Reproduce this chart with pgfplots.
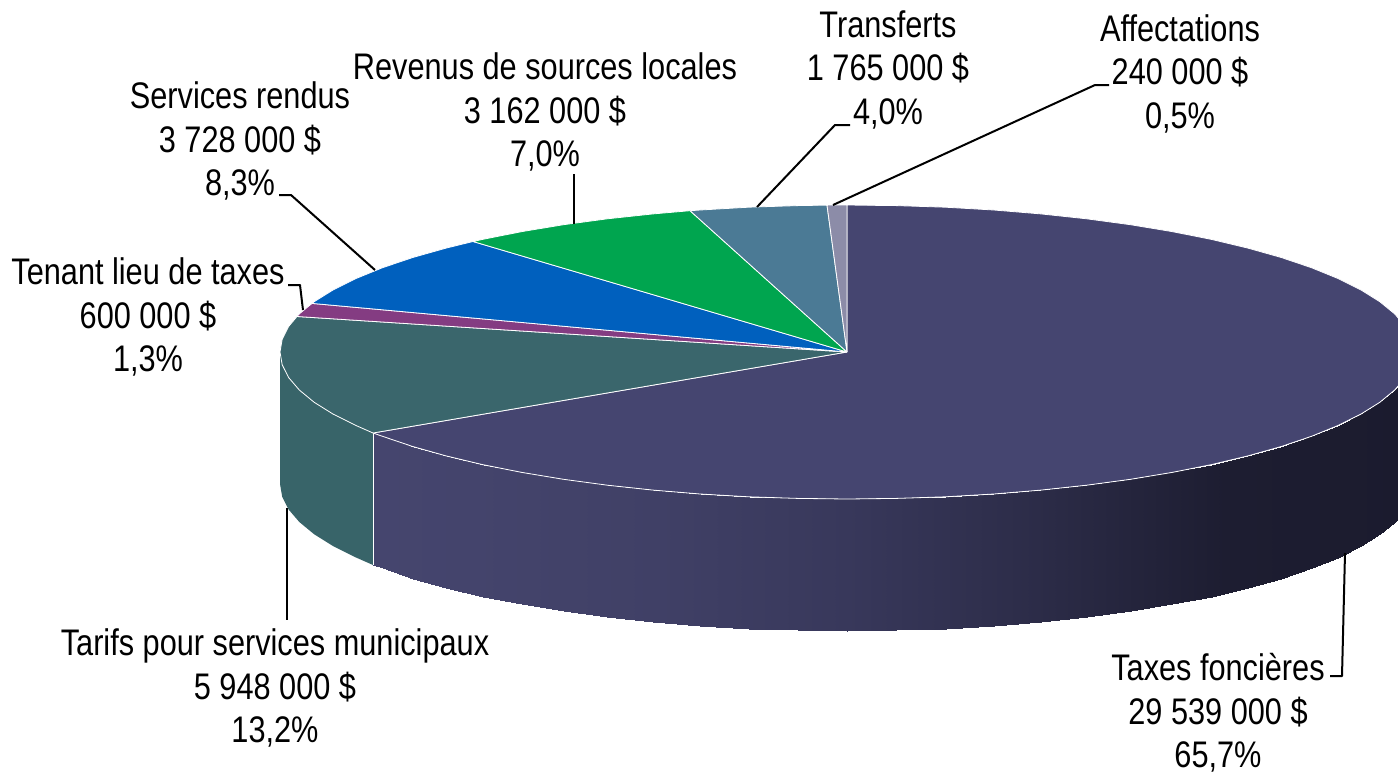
\documentclass[border=0pt]{standalone}
\usepackage{fontspec}
\setmainfont[FakeStretch=0.83]{Liberation Sans}
\usepackage{pgfplots}
\pgfplotsset{compat=1.18}
\definecolor{cTaxes}{RGB}{69,69,112}
\definecolor{cTarifs}{RGB}{58,102,108}
\definecolor{cTarifsW}{RGB}{56,100,105}
\definecolor{cTenant}{RGB}{132,60,130}
\definecolor{cServices}{RGB}{0,96,190}
\definecolor{cRevenus}{RGB}{0,165,79}
\definecolor{cTransferts}{RGB}{75,122,149}
\definecolor{cAffect}{RGB}{140,140,168}
\newcommand{\lab}[5]{\node[align=center,anchor=center,inner sep=0pt,font=\fontsize{37}{43.5}\selectfont] at (axis cs:#1,#2) {#3\\#4\\#5};}
\begin{document}
\begin{tikzpicture}
\begin{axis}[
  x=1pt,y=1pt,
  xmin=0,xmax=1398,ymin=0,ymax=774,
  y dir=reverse,
  hide axis,
  clip=true,
  point meta min=280,point meta max=1414,
  colormap={wall}{rgb255=(70,70,112) rgb255=(68,68,108) rgb255=(64,64,102) rgb255=(56,56,91) rgb255=(44,44,72) rgb255=(29,29,49) rgb255=(27,27,46)},
  slice/.style={draw=white,line width=0.8pt,line join=round},
  leader/.style={draw=black,line width=2pt,line join=round},
]
% ---- side wall, Taxes foncieres (gradient)
\addplot[surf,shader=interp,mesh/cols=31,point meta=x,draw=none] coordinates {
(1414,352)(1411.8,364.8)(1405.4,377.5)(1394.7,390)(1379.8,402.3)(1360.9,414.1)(1338,425.5)(1311.5,436.3)(1281.3,446.5)(1247.9,455.9)(1211.5,464.6)(1172.2,472.4)(1130.5,479.3)(1086.6,485.2)(1040.9,490.1)(993.8,494)(945.5,496.8)(896.4,498.4)(847,499)(797.6,498.4)(748.5,496.8)(700.2,494)(653.1,490.1)(607.4,485.2)(563.5,479.3)(521.8,472.4)(482.5,464.6)(446.1,455.9)(412.7,446.5)(382.5,436.3)(373,433)

(1414,484)(1411.8,496.8)(1405.4,509.5)(1394.7,522)(1379.8,534.3)(1360.9,546.1)(1338,557.5)(1311.5,568.3)(1281.3,578.5)(1247.9,587.9)(1211.5,596.6)(1172.2,604.4)(1130.5,611.3)(1086.6,617.2)(1040.9,622.1)(993.8,626)(945.5,628.8)(896.4,630.4)(847,631)(797.6,630.4)(748.5,628.8)(700.2,626)(653.1,622.1)(607.4,617.2)(563.5,611.3)(521.8,604.4)(482.5,596.6)(446.1,587.9)(412.7,578.5)(382.5,568.3)(373,565)
};
% ---- side wall, Tarifs
\addplot[fill=cTarifsW,draw=none] coordinates {
(373,433)(356,425.5)(333.1,414.1)(314.2,402.3)(299.3,390)(288.6,377.5)(282.2,364.8)(280,352)
(280,484)(282.2,496.8)(288.6,509.5)(299.3,522)(314.2,534.3)(333.1,546.1)(356,557.5)(373,565)(373,433)
};
\addplot[draw=white,line width=0.9pt] coordinates {(373,433)(373,565)};
% ---- top faces
\addplot[slice,fill=cTaxes] coordinates {
(847,352)(847,205)(896.4,205.6)(945.5,207.2)(993.8,210)(1040.9,213.9)(1086.6,218.8)(1130.5,224.7)(1172.2,231.6)(1211.5,239.4)(1247.9,248.1)(1281.3,257.5)(1311.5,267.7)(1338,278.5)(1360.9,289.9)(1379.8,301.7)(1394.7,313.9)(1405.4,326.5)(1411.8,339.2)(1414,352)(1411.8,364.8)(1405.4,377.5)(1394.7,390)(1379.8,402.3)(1360.9,414.1)(1338,425.5)(1311.5,436.3)(1281.3,446.5)(1247.9,455.9)(1211.5,464.6)(1172.2,472.4)(1130.5,479.3)(1086.6,485.2)(1040.9,490.1)(993.8,494)(945.5,496.8)(896.4,498.4)(847,499)(797.6,498.4)(748.5,496.8)(700.2,494)(653.1,490.1)(607.4,485.2)(563.5,479.3)(521.8,472.4)(482.5,464.6)(446.1,455.9)(412.7,446.5)(382.5,436.3)(373,433)(847,352)
};
\addplot[slice,fill=cTarifs] coordinates {
(847,352)(373,433)(356,425.5)(333.1,414.1)(314.2,402.3)(299.3,390)(288.6,377.5)(282.2,364.8)(280,352)(282.2,339.2)(288.6,326.5)(297,316.5)(847,352)
};
\addplot[slice,fill=cTenant] coordinates {
(847,352)(297,316.5)(299.3,313.9)(312,303.4)(847,352)
};
\addplot[slice,fill=cServices] coordinates {
(847,352)(312,303.4)(314.2,301.7)(333.1,289.9)(356,278.5)(382.5,267.7)(412.7,257.5)(446.1,248.1)(473,241.5)(847,352)
};
\addplot[slice,fill=cRevenus] coordinates {
(847,352)(473,241.5)(482.5,239.4)(521.8,231.6)(563.5,224.7)(607.4,218.8)(653.1,213.9)(690,210.7)(847,352)
};
\addplot[slice,fill=cTransferts] coordinates {
(847,352)(690,210.7)(700.2,210)(748.5,207.2)(797.6,205.6)(827,205.1)(847,352)
};
\addplot[slice,fill=cAffect] coordinates {
(847,352)(827,205.1)(847,205)(847,352)
};
% ---- leader lines
\addplot[leader] coordinates {(1345,553)(1342,676)(1330,676)};
\addplot[leader] coordinates {(287,508)(287,620)};
\addplot[leader] coordinates {(303,310)(300,285)(288,285)};
\addplot[leader] coordinates {(375,270)(291,195)(279,195)};
\addplot[leader] coordinates {(574,224)(574,174)};
\addplot[leader] coordinates {(757,207)(835,125)(850,125)};
\addplot[leader] coordinates {(833,205)(1095,85)(1109,85)};
% ---- labels
\lab{888}{69.5}{Transferts}{1 765 000 \$}{4,0\%}
\lab{1180}{73.5}{Affectations}{240 000 \$}{0,5\%}
\lab{545}{112}{Revenus de sources locales}{3 162 000 \$}{7,0\%}
\lab{240}{141}{Services rendus}{3 728 000 \$}{8,3\%}
\lab{148}{317}{Tenant lieu de taxes}{600 000 \$}{1,3\%}
\lab{275}{688}{Tarifs pour services municipaux}{5 948 000 \$}{13,2\%}
\lab{1218}{713}{Taxes foncières}{29 539 000 \$}{65,7\%}
\end{axis}
\pgfresetboundingbox
\useasboundingbox (0,0) rectangle (1398pt,774pt);
\end{tikzpicture}
\end{document}
